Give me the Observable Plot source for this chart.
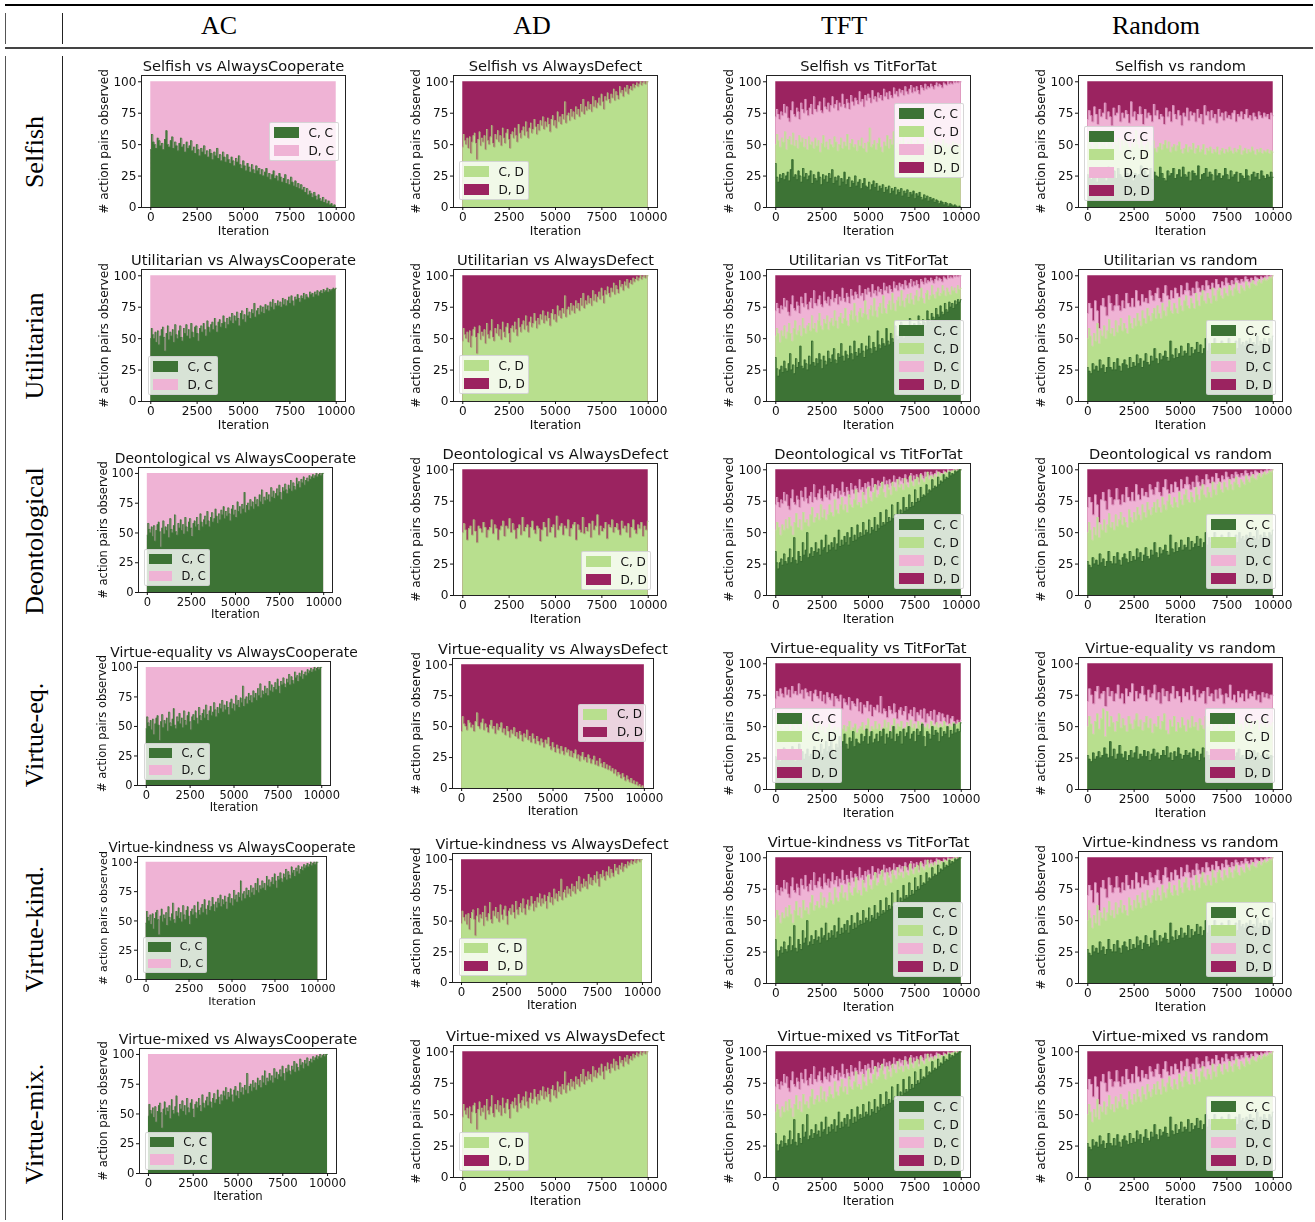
<!DOCTYPE html>
<html><head><meta charset="utf-8">
<script src="https://cdn.jsdelivr.net/npm/d3@7"></script>
<script src="https://cdn.jsdelivr.net/npm/@observablehq/plot@0.6"></script>
<style>
html,body{margin:0;padding:0;background:#fff}
#page{position:relative;width:1315px;height:1222px;overflow:hidden}
#page svg{position:absolute;overflow:visible;filter:blur(.3px)}
.rule{position:absolute;background:#111}
.head{position:absolute;font-family:"Liberation Serif",serif;font-size:26px;color:#000;transform:translate(-50%,-50%);white-space:nowrap}
.side{position:absolute;font-family:"Liberation Serif",serif;font-size:26px;color:#000;transform:translate(-50%,-50%) rotate(-90deg);white-space:nowrap}
.legend{position:absolute;box-sizing:border-box;background:rgba(255,255,255,.8);border:1px solid rgba(204,204,204,.8);border-radius:2px;font-family:"DejaVu Sans",sans-serif;color:#111;filter:blur(.25px)}
.legend div{display:flex;align-items:center;white-space:nowrap}
</style></head><body><div id="page"></div>
<script>
const agents=["Selfish","Utilitarian","Deontological","Virtue-equality","Virtue-kindness","Virtue-mixed"];
const rowLabels=["Selfish","Utilitarian","Deontological","Virtue-eq.","Virtue-kind.","Virtue-mix."];
const opponents=["AlwaysCooperate","AlwaysDefect","TitForTat","random"];
const columnLabels=["AC","AD","TFT","Random"];
const xTicks=[0,2500,5000,7500,10000];
const yTicks=[0,25,50,75,100];
const full=[100,100];

const fall=[46,58,52,50,47,55,53,49,51,46,54,61,50,48,53,56,47,52,49,45,51,55,48,50,44,52,47,49,53,45,48,43,50,46,41,47,44,49,42,45,40,46,43,38,44,41,47,39,42,37,44,40,36,42,38,35,40,37,33,39,36,41,34,31,37,33,29,35,32,28,34,30,27,33,29,31,26,30,25,28,31,24,27,22,26,29,23,25,21,27,24,20,23,26,19,22,18,24,20,17,21,16,19,15,18,14,16,12,15,10,13,11,8,12,9,6,10,7,5,8,4,6,3,5,2,3,1,2,0];
const rise100=[48,58,53,50,55,47,56,43,52,57,59,51,38,54,60,49,55,52,57,46,62,53,50,56,65,51,48,58,54,61,52,57,49,63,55,51,59,62,54,47,58,60,55,63,57,52,66,59,55,61,64,57,68,60,55,63,67,59,62,70,64,58,66,61,69,65,72,62,68,64,71,66,60,70,73,65,69,63,76,68,72,66,74,70,84,67,73,75,69,78,72,76,70,80,74,78,72,82,76,86,74,80,77,84,78,82,76,88,80,85,79,83,87,81,90,84,78,88,85,91,86,83,90,87,94,85,92,89,86,96,91,93,88,95,92,97,90,94,96,93,98,95,97,99,96,98,100,97,99,100,98,100,100];
const rise88=[50,58,53,50,55,47,56,45,52,57,59,51,40,54,60,49,55,52,57,47,61,53,50,56,60,51,48,58,54,61,52,57,50,62,55,51,59,60,54,48,58,60,55,62,57,52,64,59,55,61,63,57,66,60,55,63,65,59,62,68,63,58,66,61,67,64,70,62,68,64,71,66,60,70,72,65,69,63,74,68,71,66,73,70,78,67,72,74,69,76,71,75,70,77,73,76,72,79,75,81,73,78,76,80,76,79,75,82,77,81,76,80,83,78,84,80,76,83,81,85,82,79,84,82,86,81,85,83,82,87,85,86,83,87,85,88,84,87,88,86,89,87,88,90,87,89,88,89,90,89,90];
const flat55=[50,57,52,44,53,55,48,60,51,42,55,53,50,58,54,46,52,54,60,49,56,53,44,52,55,59,47,55,53,61,50,57,52,45,53,56,48,62,51,54,56,46,54,59,52,49,55,53,43,52,58,54,47,61,50,54,56,46,63,52,55,57,48,55,53,60,47,53,56,58,44,56,52,50,62,49,54,51,57,46,59,52,55,64,48,55,51,53,58,45,56,54,60,50,54,57,52,48,59,53,55,50,57,46,54,60,52,49,56,53,58,47,55,52,59];

const tftTop=[72,78,74,70,76,73,82,75,80,71,68,77,84,74,72,79,76,70,83,78,75,86,77,73,79,82,74,88,78,76,81,84,77,75,87,80,78,83,76,81,88,79,82,85,77,83,80,90,82,79,86,83,78,89,84,81,87,85,82,92,84,86,80,89,85,90,87,83,93,86,88,84,91,87,89,85,94,88,91,86,92,89,87,95,90,92,88,94,91,93,89,96,92,90,94,97,91,95,92,96,93,90,97,95,93,98,94,96,95,98,96,94,97,99,96,98,97,95,99,98,97,100,98,99,98,100,99,100,99,100,100];
const tftSelfCC=[35,24,20,26,23,27,22,25,28,21,30,38,24,26,22,29,25,20,31,24,27,22,25,29,19,26,23,21,28,24,18,26,22,25,20,27,23,30,19,24,21,25,17,23,20,28,18,22,24,16,21,19,25,17,20,22,15,19,23,17,16,20,14,18,21,16,19,13,17,15,18,12,16,14,17,11,15,13,16,10,14,12,15,9,13,11,14,8,12,10,13,7,11,9,12,8,6,10,7,9,5,8,6,7,4,6,5,3,5,4,2,4,3,1,3,2,1,2,1,0,1,0];
const tftSelfCD=[50,58,53,48,55,52,60,46,54,56,50,59,49,53,47,57,52,55,48,54,46,56,50,52,47,55,49,53,44,51,57,48,52,46,54,50,48,56,52,45,50,55,47,52,49,58,46,51,54,48,50,45,53,49,55,47,51,44,52,63,48,50,53,46,51,55,48,44,52,49,57,47,54,50,60,47,51,45,53,49,56,50,46,52,48,54,47,51,49,53,46,50,48,52,47,55,49,51,46,53,50,48,52,47,50,54,49,51,48,50,46,52,49,51,48,50,50];
const tftUtilCC=[35,26,20,25,28,23,32,26,24,30,38,25,29,22,34,27,31,44,28,26,33,30,25,36,29,48,31,28,34,30,38,33,26,36,32,29,40,34,31,37,42,33,30,38,35,46,36,32,40,37,34,44,38,33,48,39,36,42,38,46,40,35,44,41,52,42,38,47,43,40,56,45,42,50,46,44,58,48,45,54,50,47,60,52,49,56,63,53,50,60,55,52,66,58,55,62,60,57,68,62,59,65,63,60,72,65,63,70,67,65,74,69,67,76,71,69,78,73,71,79,75,78,74,80,77,81,79,81];
const tftUtilCD=[52,58,54,47,56,52,60,50,55,62,54,48,58,64,53,56,60,52,66,58,54,60,62,56,68,58,62,55,64,70,60,57,65,62,68,57,63,66,60,72,64,58,67,70,62,66,74,64,60,69,72,65,78,68,63,71,74,67,70,80,69,65,73,76,68,82,72,67,75,78,70,84,74,70,77,80,73,86,78,72,80,83,76,88,80,75,82,85,78,86,81,77,84,88,80,83,90,82,78,86,88,81,84,92,85,82,87,90,84,86,92,88,84,90,87,85,91,88,90,86,92,89,90];
const tftDeonCC=[35,26,21,26,29,24,33,27,25,30,37,26,30,46,28,25,35,31,27,42,32,36,50,30,33,38,31,35,42,34,37,32,44,36,38,48,34,40,36,42,38,46,36,41,52,39,44,40,47,42,50,40,46,54,43,48,44,56,46,50,47,58,48,52,50,60,49,54,52,62,51,56,53,66,55,58,56,68,58,62,59,72,61,64,62,74,64,68,65,78,67,70,68,80,70,74,71,84,74,77,75,86,78,80,79,88,81,84,83,92,85,87,86,94,88,91,90,96,92,94,93,98,95,97,96,99,98,99,100,100];
const tftDeonCD=[52,58,54,48,56,52,60,53,62,55,48,58,65,54,60,52,66,58,60,55,64,70,58,62,65,60,72,62,68,60,64,72,66,63,76,68,65,72,78,68,72,66,80,72,70,76,84,72,74,70,82,76,73,86,78,75,82,88,78,80,86,90,82,78,88,84,80,90,86,83,92,86,88,84,93,88,86,95,90,87,92,94,88,96,92,90,94,98,92,95,93,96,94,98,95,97,96,98,97,99,98,99,99,100,99,100,100];
const tftEqTop=[72,78,74,80,76,73,81,75,79,73,82,76,78,75,84,76,79,72,80,77,74,78,70,76,79,74,72,78,70,75,68,77,73,71,76,66,74,72,70,75,64,72,69,67,73,63,70,68,66,72,62,69,60,67,65,70,62,67,58,65,63,67,61,74,60,64,62,57,66,63,60,68,61,56,63,65,59,62,66,55,60,63,58,65,54,61,59,63,56,64,53,60,58,62,55,63,52,59,61,54,60,57,53,59,52,56,58,54,52,55,53,55];
const tftEqCC=[26,24,30,22,28,33,25,27,30,24,34,27,22,29,36,26,30,24,28,32,26,28,25,34,30,26,29,36,28,32,38,30,34,40,32,28,36,33,42,34,38,44,36,32,41,38,46,34,40,37,36,44,38,42,48,36,42,46,37,40,44,38,46,42,48,36,44,41,46,40,50,38,44,42,46,36,48,42,45,50,40,44,46,38,48,43,46,52,42,34,46,44,40,50,43,47,45,38,49,42,46,44,50,41,47,44,52,45,48,46,53];
const tftEqCD=[53,58,50,55,48,54,50,56,47,53,51,48,55,50,46,52,49,54,47,50,48,53,46,50,52,47,50,45,49,52,46,48,50,47,49,44,48,51,46,50,54,47,49,52,45,48,50,53,47,51,56,46,50,48,54,48,52,47,49,55,49,53,46,51,56,48,52,50,54,47,49,53,50,55,49,52,48,54,51,53,50,49,52,48,54,51,50,53,49,52,50,54,51,49,52,50,53,51,52,53,53];

const rndSelfCC=[26,24,22,28,25,20,30,24,27,25,21,32,26,25,29,23,31,26,24,22,30,27,24,28,21,27,25,26,33,23,29,24,26,31,22,28,25,24,32,27,23,21,29,25,27,31,23,26,30,24,32,26,24,28,21,29,27,25,33,22,26,27,31,24,28,26,21,30,25,27,23,25,31,26,22,29,24,26,28,20,27,25,23,30,25,21,26,28,24,27,22,29,25,23,26,24,28,24];
const rndSelfCD=[52,58,50,47,55,60,52,46,54,50,57,48,53,51,56,47,52,50,55,45,53,49,54,51,48,46,51,48,61,50,47,54,49,45,50,52,46,49,53,47,44,48,51,46,50,53,47,52,44,48,50,45,49,52,46,43,47,50,44,48,46,51,43,47,49,44,46,50,42,47,45,48,43,46,44,48,42,45,47,43,46,44,48,45,43,47,44,46,49,42,45,47,43,46,44,48,45,42,46,44,47,43,45,44,46,43,45,44];
const rndSelfTop=[70,77,73,68,80,74,66,78,72,75,83,70,76,72,65,79,73,75,81,68,75,71,77,74,67,84,72,76,69,74,80,74,66,78,71,75,73,68,82,73,77,70,74,72,66,79,72,76,68,81,74,70,77,73,65,75,72,79,69,76,73,75,68,78,71,74,66,81,73,76,69,77,71,74,67,78,72,75,69,76,71,73,70,75,77,68,74,72,76,70,74,78,71,73,69,75,72,70,76,73,71,75,72,74,70,75,73];
const rndDeonCC=[27,24,22,30,25,28,24,33,26,29,23,27,35,27,25,31,25,34,28,24,30,33,29,26,35,27,31,28,37,30,34,27,32,38,31,29,36,32,42,34,30,38,33,36,40,35,32,48,37,34,42,35,38,44,36,40,38,46,36,43,38,41,47,39,45,38,42,50,40,46,42,40,50,44,38,46,48,42,46,44,50,40,46,43,48,42,50,45,47,44,48,46,50,43,47,45,52,44,48,46,50,47,45,50,48,52];
const rndDeonCD=[50,58,52,44,54,48,62,46,56,52,60,50,56,65,54,58,52,64,55,60,66,56,62,58,54,68,62,58,66,60,70,64,60,72,66,62,74,68,64,70,74,66,76,70,66,78,72,68,75,80,72,70,78,74,70,82,76,72,80,84,76,74,82,78,74,86,80,76,84,88,80,78,86,82,78,90,84,80,88,90,84,82,90,86,84,92,88,84,90,94,88,86,92,90,88,95,92,90,94,96,93,92,95,97,94,96,98,96,97,99,98,100];
const rndDeonTop=[70,78,74,64,80,72,58,76,82,75,68,84,78,72,76,85,76,72,80,74,86,78,75,82,75,88,80,76,85,79,82,78,88,84,80,86,90,82,79,86,92,84,81,88,82,90,86,83,92,85,88,94,88,84,90,86,95,90,87,92,88,96,92,89,94,90,97,93,90,95,92,98,94,92,96,93,98,96,94,97,95,99,97,95,98,96,99,98,97,99,98,99,100,99,100,100];
const rndEqCC=[27,24,22,29,24,26,30,25,27,33,28,25,38,26,32,24,28,35,28,25,30,23,27,31,25,29,34,24,28,26,31,26,30,23,28,32,26,29,24,27,31,27,34,25,29,23,30,26,33,28,24,27,31,27,29,25,32,26,30,23,28,33,25,30,27,24,29,31,26,28,25,30,23,29,27,31,25,28,26,29,32,25,27,24,30,26,28,23,31,26,29,24,27,30,25,28,26,27,26];
const rndEqCD=[50,58,52,44,54,60,48,56,64,42,62,50,58,53,46,54,60,49,56,51,46,58,52,48,55,60,50,55,47,53,58,49,56,45,52,50,58,48,54,60,47,44,55,50,58,46,53,49,57,51,46,55,49,58,50,53,47,56,51,48,58,50,54,46,52,49,57,51,47,55,50,53,48,56,51,49,55,50,52,47,54,50,56,48,53,51,55,47,52,50,57,49,52,50,53];
const rndEqTop=[70,80,75,68,78,82,72,76,78,66,81,74,78,70,76,83,72,76,68,80,74,77,84,70,78,72,76,82,75,70,79,73,76,83,71,77,68,80,74,78,70,76,82,72,78,74,69,80,74,77,71,82,75,70,79,73,76,78,68,81,74,76,70,79,72,80,75,68,76,73,83,71,75,69,78,73,76,70,79,72,76,74,78,71,75,69,77,73,76,72,75,75];

// which measured series each panel uses: row by row
const acCC=[fall,rise88,rise100,rise100,rise100,rise100];
const adCD=[rise100,rise100,flat55,fall,rise100,rise100];
const tftCC=[tftSelfCC,tftUtilCC,tftDeonCC,tftEqCC,tftDeonCC,tftDeonCC];
const tftCD=[tftSelfCD,tftUtilCD,tftDeonCD,tftEqCD,tftDeonCD,tftDeonCD];
const tftDC=[tftTop,tftTop,tftTop,tftEqTop,tftTop,tftTop];
const rndCC=[rndSelfCC,rndDeonCC,rndDeonCC,rndEqCC,rndDeonCC,rndDeonCC];
const rndCD=[rndSelfCD,rndDeonCD,rndDeonCD,rndEqCD,rndDeonCD,rndDeonCD];
const rndDC=[rndSelfTop,rndDeonTop,rndDeonTop,rndEqTop,rndDeonTop,rndDeonTop];

// layout, kept apart from the values
const C={cc:"#3d7335",cd:"#b8df8e",dc:"#efb3d5",dd:"#9b2360"};
const names={cc:"C, C",cd:"C, D",dc:"D, C",dd:"D, D"};
const frames=[
 [[141,345,75,207],[453,657,75,207],[766,970,75,207],[1078,1282,75,207]],
 [[141,345,269,401],[453,657,269,401],[766,970,269,401],[1078,1282,269,401]],
 [[138,332,467,592],[453,657,463,595],[766,970,463,595],[1078,1282,463,595]],
 [[137,330,661,785],[452,653,658,788],[766,970,657,789],[1078,1282,657,789]],
 [[137,326,856,979],[452,651,853,982],[766,970,851,983],[1078,1282,851,983]],
 [[139,336,1048,1173],[453,657,1045,1177],[766,970,1045,1177],[1078,1282,1045,1177]]
];
const legendAt=[
 [[269,122],[459,161],[894,103],[1084,126]],
 [[148,356],[459,355],[894,320],[1206,320]],
 [[144,549],[581,551],[894,514],[1206,514]],
 [[144,743],[578,704],[772,708],[1205,708]],
 [[143,937],[459,938],[893,902],[1206,902]],
 [[145,1132],[459,1132],[894,1096],[1206,1096]]
];
const M={l:52,r:34,t:22,b:38};
const page=document.getElementById("page");
function rule(x,y,w,h,bg){const d=document.createElement("div");d.className="rule";d.style.cssText=`left:${x}px;top:${y}px;width:${w}px;height:${h}px;background:${bg||"#111"}`;page.append(d)}
rule(5,4,1308,2,"#000");rule(5,47,1308,1.6,"#444");
rule(5,13,1,31,"#555");rule(62,13,1,31,"#222");
rule(5,56,1,1164,"#555");rule(62,56,1,1164,"#222");
const headX=[219,532,844,1156];
columnLabels.forEach((t,i)=>{const d=document.createElement("div");d.className="head";d.textContent=t;d.style.left=headX[i]+"px";d.style.top="26px";page.append(d)});
const sideY=[152,346,541,735,929,1124];
rowLabels.forEach((t,i)=>{const d=document.createElement("div");d.className="side";d.textContent=t;d.style.left="35px";d.style.top=sideY[i]+"px";page.append(d)});

const rows=a=>a.map((y,i)=>({x:i/(a.length-1)*10000,y}));
function panel(r,c){
 const [L,R,T,B]=frames[r][c], s=(R-L)/204;
 let layers;
 if(c===0)layers=[["dc",full,null],["cc",acCC[r],"#4c7c43"]];
 else if(c===1)layers=[["dd",full,null],["cd",adCD[r],"#a9a274"]];
 else if(c===2)layers=[["dd",full,null],["dc",tftDC[r],"#d98db9"],["cd",tftCD[r],"#cbdca3"],["cc",tftCC[r],"#356a2e"]];
 else layers=[["dd",full,null],["dc",rndDC[r],"#d98db9"],["cd",rndCD[r],"#cbdca3"],["cc",rndCC[r],"#356a2e"]];
 const marks=[];
 for(const [k,a,edge] of layers){
  const d=rows(a);
  marks.push(Plot.areaY(d,{x:"x",y1:0,y2:"y",curve:"step",fill:C[k]}));
  if(edge)marks.push(Plot.lineY(d,{x:"x",y:"y",curve:"step",stroke:edge,strokeWidth:.7}));
 }
 marks.push(Plot.frame({stroke:"#222",strokeWidth:1}));
 const fs=12.1*s;
 marks.push(Plot.axisX({ticks:xTicks,tickFormat:d3.format("d"),tickSize:3,tickPadding:2,label:"Iteration",labelAnchor:"center",labelArrow:"none",labelOffset:27*s,fontSize:fs}));
 marks.push(Plot.axisY({ticks:yTicks,tickSize:3,tickPadding:2,label:"# action pairs observed",labelAnchor:"center",labelArrow:"none",labelOffset:42*s,fontSize:fs}));
 marks.push(Plot.text([`${agents[r]} vs ${opponents[c]}`],{frameAnchor:"top",lineAnchor:"bottom",dy:-4.5,fontSize:14.65*s,fill:"#111"}));
 const svg=Plot.plot({width:R-L+M.l+M.r,height:B-T+M.t+M.b,marginLeft:M.l,marginRight:M.r,marginTop:M.t,marginBottom:M.b,
  x:{domain:[-500,10500]},y:{domain:[0,105]},style:{fontFamily:"DejaVu Sans",color:"#111",background:"transparent",overflow:"visible"},marks});
 svg.style.left=(L-M.l)+"px";svg.style.top=(T-M.t)+"px";
 page.append(svg);
 const keys=layers.map(l=>l[0]).sort((a,b)=>"cc cd dc dd".indexOf(a)-"cc cd dc dd".indexOf(b));
 const lg=document.createElement("div");lg.className="legend";
 const [lx,ly]=legendAt[r][c];
 lg.style.cssText=`left:${lx}px;top:${ly}px;width:${69.5*s}px;height:${(keys.length*18+3)*s}px;padding:${.5*s}px 0 0 ${4.2*s}px;font-size:${fs}px`;
 for(const k of keys){const e=document.createElement("div");e.style.height=18*s+"px";
  const p=document.createElement("span");p.style.cssText=`display:inline-block;width:${24.7*s}px;height:${10.5*s}px;background:${C[k]};margin-right:${9.6*s}px`;
  e.append(p,names[k]);lg.append(e)}
 page.append(lg);
}
for(let r=0;r<6;r++)for(let c=0;c<4;c++)panel(r,c);
</script></body></html>
